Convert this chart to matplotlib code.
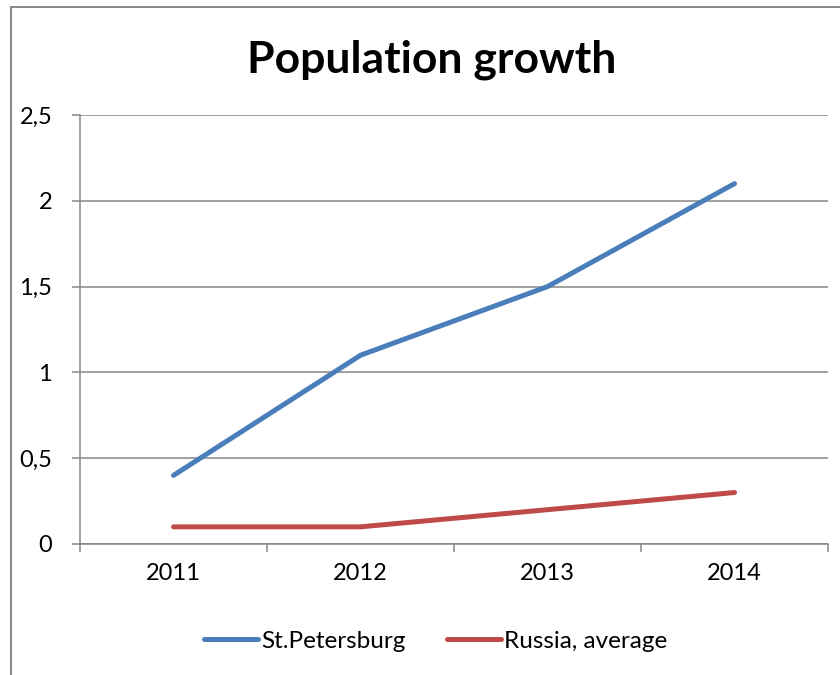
import matplotlib.pyplot as plt
from matplotlib.patches import Rectangle

# -------------------------------
# Data
# -------------------------------
years = ["2011", "2012", "2013", "2014"]
spb_growth = [0.4, 1.1, 1.5, 2.1]
russia_growth = [0.1, 0.1, 0.2, 0.3]
y_ticks = [0, 0.5, 1, 1.5, 2, 2.5]
y_tick_labels = ["0", "0,5", "1", "1,5", "2", "2,5"]

BLUE = "#4A7EBB"
RED = "#BE4B48"
GRID = "#868686"

plt.rcParams["font.family"] = ["Lato", "DejaVu Sans"]

fig = plt.figure(figsize=(8.4, 6.75), dpi=100)
W, H = 840, 675

# chart frame (runs off the right and bottom edges)
fig.patches.append(Rectangle((11 / W, -0.05), 1.2, 1 - 7 / H + 0.05,
                             transform=fig.transFigure, fill=False,
                             edgecolor=GRID, lw=1.4))

ax = fig.add_axes([80 / W, 1 - 544 / H, 748 / W, (544 - 115) / H])

x = list(range(len(years)))
ax.plot(x, spb_growth, color=BLUE, lw=3.6, solid_capstyle="round",
        solid_joinstyle="round", label="St.Petersburg")
ax.plot(x, russia_growth, color=RED, lw=3.6, solid_capstyle="round",
        solid_joinstyle="round", label="Russia, average")

ax.set_xlim(-0.5, len(years) - 0.5)
ax.set_ylim(0, 2.5)

ax.set_yticks(y_ticks)
ax.set_yticklabels(y_tick_labels)
ax.set_xticks(x)
ax.set_xticklabels(years)
ax.set_xticks([i - 0.5 for i in range(len(years) + 1)], minor=True)

ax.tick_params(axis="x", which="major", length=0, pad=14, labelsize=17)
ax.tick_params(axis="x", which="minor", length=6, width=1.1, color=GRID)
ax.tick_params(axis="y", length=6, width=1.1, color=GRID, pad=14,
               labelsize=17)

ax.grid(axis="y", color=GRID, lw=1.1)
ax.set_axisbelow(True)
for side in ["top", "right"]:
    ax.spines[side].set_visible(False)
for side in ["left", "bottom"]:
    ax.spines[side].set_color(GRID)
    ax.spines[side].set_linewidth(1.1)

fig.text(432 / W, 1 - 60 / H, "Population growth", ha="center",
         va="center", fontsize=32, fontweight="bold")

fig.legend(loc="center", bbox_to_anchor=(436 / W, 1 - 641 / H), ncol=2,
           frameon=False, fontsize=17.5, handlelength=2.2,
           handletextpad=0.15, columnspacing=1.7)

fig.savefig("out.png", dpi=100)
